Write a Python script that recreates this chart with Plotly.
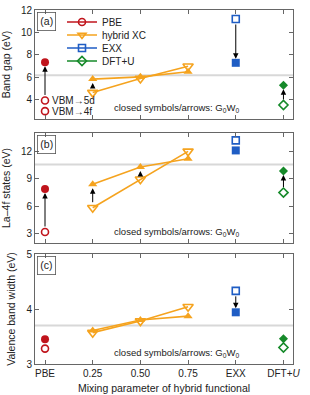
import plotly.graph_objects as go

# ---------------- data ----------------
categories = ["PBE", "0.25", "0.50", "0.75", "EXX", "DFT+<i>U</i>"]
hyb_idx = [1, 2, 3]

# (a) band gap (eV)
gap_pbe_open = [3.95, 3.0]          # VBM->5d, VBM->4f
gap_pbe_g0w0 = 7.35
gap_hyb_open = [4.65, 5.9, 7.0]
gap_hyb_g0w0 = [5.85, 6.05, 6.5]
gap_exx_open = 11.2
gap_exx_g0w0 = 7.3
gap_dftu_open = 3.55
gap_dftu_g0w0 = 5.3
gap_ref = 6.2

# (b) La-4f states (eV)
f_pbe_open = [3.2]
f_pbe_g0w0 = 7.9
f_hyb_open = [5.85, 8.95, 12.0]
f_hyb_g0w0 = [8.4, 10.3, 11.2]
f_exx_open = 13.2
f_exx_g0w0 = 12.1
f_dftu_open = 7.5
f_dftu_g0w0 = 9.85
f_ref = 10.55

# (c) valence band width (eV)
vbw_pbe_open = [3.28]
vbw_pbe_g0w0 = 3.45
vbw_hyb_open = [3.57, 3.78, 4.04]
vbw_hyb_g0w0 = [3.61, 3.80, 3.87]
vbw_exx_open = 4.33
vbw_exx_g0w0 = 3.94
vbw_dftu_open = 3.30
vbw_dftu_g0w0 = 3.46
vbw_ref = 3.70

y_ranges = [[2.3, 12], [2, 14], [3, 5]]
y_ticks = [[4, 6, 8, 10, 12], [3, 6, 9, 12], [3, 4, 5]]
y_titles = ["Band gap (eV)", "La\u20134f states (eV)", "Valence band width (eV)"]
panel_labels = ["(a)", "(b)", "(c)"]
legend_names = ["PBE", "hybrid XC", "EXX", "DFT+U"]

RED = "#c0141c"
ORANGE = "#f5a31e"
BLUE = "#1f5dc4"
GREEN = "#168a2a"
FONT = "Liberation Sans"
TXT = "#222"

panels = [
    dict(pbe_open=gap_pbe_open, pbe=gap_pbe_g0w0, hyb_open=gap_hyb_open, hyb=gap_hyb_g0w0,
         exx_open=gap_exx_open, exx=gap_exx_g0w0, dftu_open=gap_dftu_open, dftu=gap_dftu_g0w0,
         ref=gap_ref),
    dict(pbe_open=f_pbe_open, pbe=f_pbe_g0w0, hyb_open=f_hyb_open, hyb=f_hyb_g0w0,
         exx_open=f_exx_open, exx=f_exx_g0w0, dftu_open=f_dftu_open, dftu=f_dftu_g0w0,
         ref=f_ref),
    dict(pbe_open=vbw_pbe_open, pbe=vbw_pbe_g0w0, hyb_open=vbw_hyb_open, hyb=vbw_hyb_g0w0,
         exx_open=vbw_exx_open, exx=vbw_exx_g0w0, dftu_open=vbw_dftu_open, dftu=vbw_dftu_g0w0,
         ref=vbw_ref),
]

H, W = 395, 310
ML, MR, MT, MB = 35, 17, 10, 31
PH = H - MT - MB
# panel pixel extents (top, bottom)
panel_px = [(10, 119), (133, 243), (254, 364)]
domains = [[(H - MB - b) / PH, (H - MB - t) / PH] for t, b in panel_px]

fig = go.Figure()
annotations = []
shapes = []

MS = 7
for i, p in enumerate(panels):
    xa = "x" if i == 0 else f"x{i+1}"
    ya = "y" if i == 0 else f"y{i+1}"
    # reference gray line
    shapes.append(dict(type="line", xref=f"{xa} domain", yref=ya, x0=0, x1=1,
                       y0=p["ref"], y1=p["ref"], line=dict(color="#d8d8d8", width=2), layer="below"))
    # PBE
    fig.add_trace(go.Scatter(x=[0] * len(p["pbe_open"]), y=p["pbe_open"], mode="markers",
                             marker=dict(symbol="circle-open", size=MS, color=RED, line=dict(width=1.6)),
                             xaxis=xa, yaxis=ya, showlegend=False))
    fig.add_trace(go.Scatter(x=[0], y=[p["pbe"]], mode="markers",
                             marker=dict(symbol="circle", size=MS + 1, color=RED),
                             xaxis=xa, yaxis=ya, showlegend=False))
    # hybrid
    fig.add_trace(go.Scatter(x=hyb_idx, y=p["hyb_open"], mode="lines+markers",
                             line=dict(color=ORANGE, width=1.6),
                             marker=dict(symbol="triangle-down-open", size=MS + 2, color=ORANGE, line=dict(width=1.6)),
                             xaxis=xa, yaxis=ya, showlegend=False))
    fig.add_trace(go.Scatter(x=hyb_idx, y=p["hyb"], mode="lines+markers",
                             line=dict(color=ORANGE, width=1.6),
                             marker=dict(symbol="triangle-up", size=MS + 1, color=ORANGE),
                             xaxis=xa, yaxis=ya, showlegend=False))
    # EXX
    fig.add_trace(go.Scatter(x=[4], y=[p["exx_open"]], mode="markers",
                             marker=dict(symbol="square-open", size=MS, color=BLUE, line=dict(width=1.6)),
                             xaxis=xa, yaxis=ya, showlegend=False))
    fig.add_trace(go.Scatter(x=[4], y=[p["exx"]], mode="markers",
                             marker=dict(symbol="square", size=MS + 1, color=BLUE),
                             xaxis=xa, yaxis=ya, showlegend=False))
    # DFT+U
    fig.add_trace(go.Scatter(x=[5], y=[p["dftu_open"]], mode="markers",
                             marker=dict(symbol="diamond-open", size=MS, color=GREEN, line=dict(width=1.6)),
                             xaxis=xa, yaxis=ya, showlegend=False))
    fig.add_trace(go.Scatter(x=[5], y=[p["dftu"]], mode="markers",
                             marker=dict(symbol="diamond", size=MS, color=GREEN),
                             xaxis=xa, yaxis=ya, showlegend=False))

    # arrows open -> G0W0
    pairs = [(0, p["pbe_open"][0], p["pbe"])]
    pairs += [(x, a, b) for x, a, b in zip(hyb_idx, p["hyb_open"], p["hyb"])]
    pairs += [(4, p["exx_open"], p["exx"]), (5, p["dftu_open"], p["dftu"])]
    span = y_ranges[i][1] - y_ranges[i][0]
    for x, y0, y1 in pairs:
        if abs(y1 - y0) / span < 0.06:
            continue
        annotations.append(dict(x=x, y=y1, ax=x, ay=y0, xref=xa, yref=ya, axref=xa, ayref=ya,
                                showarrow=True, arrowhead=2, arrowsize=1.1, arrowwidth=1,
                                arrowcolor="black", standoff=4, startstandoff=4, text=""))

    # panel label
    annotations.append(dict(x=0.008, y=0.985, xref=f"{xa} domain", yref=f"{ya} domain",
                            xanchor="left", yanchor="top", text=panel_labels[i], showarrow=False,
                            font=dict(size=10.5, color=TXT, family=FONT),
                            bordercolor="#555", borderwidth=0.8, borderpad=2.5))
    # G0W0 note
    annotations.append(dict(x=0.80, y=0.03, xref=f"{xa} domain", yref=f"{ya} domain",
                            xanchor="right", yanchor="bottom",
                            text="closed symbols/arrows: G<sub>0</sub>W<sub>0</sub>", showarrow=False,
                            font=dict(size=9.5, color=TXT, family=FONT)))

# VBM labels in panel (a)
for yv, lab in zip(gap_pbe_open, ["VBM\u21925d", "VBM\u21924f"]):
    annotations.append(dict(x=0, y=yv, xref="x", yref="y", xanchor="left", yanchor="middle",
                            xshift=5, text=lab, showarrow=False,
                            font=dict(size=10, color=TXT, family=FONT)))

# legend entries, one small legend per entry so the spacing matches
leg_syms = ["circle-open", "triangle-down-open", "square-open", "diamond-open"]
leg_cols = [RED, ORANGE, BLUE, GREEN]
legend_layouts = {}
for k, (name, col, sym) in enumerate(zip(legend_names, leg_cols, leg_syms)):
    lname = "legend" if k == 0 else f"legend{k+1}"
    fig.add_trace(go.Scatter(x=[None], y=[None], mode="lines+markers", name=name,
                             line=dict(color=col, width=1.6),
                             marker=dict(symbol=sym, size=MS, color=col, line=dict(width=1.6)),
                             xaxis="x", yaxis="y", showlegend=True, legend=lname))
    cy = 22 + 13 * k
    legend_layouts[lname] = dict(x=(62 - ML) / (W - ML - MR), y=(H - MB - cy) / PH,
                                 xanchor="left", yanchor="middle", bgcolor="rgba(0,0,0,0)",
                                 borderwidth=0, font=dict(size=10, color=TXT, family=FONT))

axis_common = dict(showline=True, linecolor="#666", linewidth=1, mirror="ticks", ticks="inside",
                   ticklen=4, tickcolor="#666", showgrid=False, zeroline=False, automargin=False,
                   tickfont=dict(size=10, color=TXT, family=FONT))

layout = dict(width=W, height=H, plot_bgcolor="white", paper_bgcolor="white",
              margin=dict(l=ML, r=MR, t=MT, b=MB, autoexpand=False),
              font=dict(family=FONT, size=10, color=TXT),
              annotations=annotations, shapes=shapes, **legend_layouts)

for i in range(3):
    xk = "xaxis" if i == 0 else f"xaxis{i+1}"
    yk = "yaxis" if i == 0 else f"yaxis{i+1}"
    ya = "y" if i == 0 else f"y{i+1}"
    xa = "x" if i == 0 else f"x{i+1}"
    layout[xk] = dict(axis_common, range=[-0.21, 5.2], tickvals=list(range(len(categories))),
                      ticktext=categories, showticklabels=(i == 2), anchor=ya,
                      domain=[0, 1])
    if i == 2:
        layout[xk]["title"] = dict(text="Mixing parameter of hybrid functional",
                                   font=dict(size=10.5, color=TXT, family=FONT), standoff=6)
    layout[yk] = dict(axis_common, range=y_ranges[i], tickvals=y_ticks[i], anchor=xa,
                      domain=domains[i],
                      title=dict(text=y_titles[i], font=dict(size=10.5, color=TXT, family=FONT),
                                 standoff=8))

fig.update_layout(**layout)
fig.write_html("out.html", config={"displayModeBar": False},
               post_script="document.body.style.margin='0';")
